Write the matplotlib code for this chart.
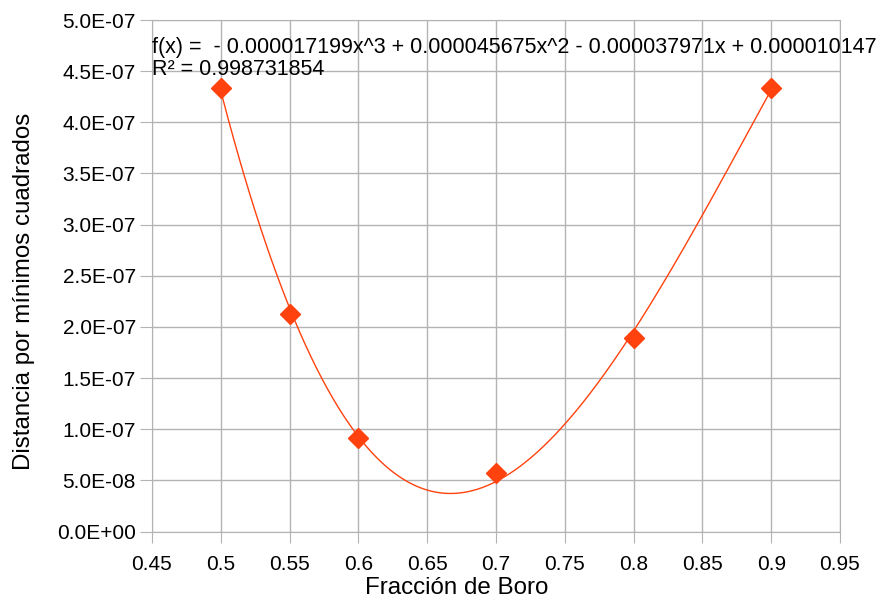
import matplotlib.pyplot as plt
import numpy as np
from matplotlib.ticker import FuncFormatter

plt.rcParams['font.family'] = ['Liberation Sans', 'DejaVu Sans']

boro = [0.5, 0.55, 0.6, 0.7, 0.8, 0.9]
distancia = [4.34e-7, 2.13e-7, 0.91e-7, 0.575e-7, 1.895e-7, 4.335e-7]
eq_text = 'f(x) =  - 0.000017199x^3 + 0.000045675x^2 - 0.000037971x + 0.000010147'
r2_text = 'R² = 0.998731854'

color = '#ff420e'
grid_c = '#b3b3b3'

# cubic trend line through the points
coef = np.polyfit(boro, distancia, 3)
xs = np.linspace(min(boro), max(boro), 300)
ys = np.polyval(coef, xs)

fig = plt.figure(figsize=(8.8, 5.99), dpi=100)
ax = fig.add_axes([152 / 880, 1 - 531.5 / 599, (840 - 152) / 880, (531.5 - 20) / 599])

ax.plot(xs, ys, color=color, lw=1, zorder=2)
ax.plot(boro, distancia, 'D', color=color, ms=10, zorder=3, clip_on=False)

ax.set_xlim(0.45, 0.95)
ax.set_ylim(0, 5e-7)
ax.set_xticks(np.arange(0.45, 0.951, 0.05))
ax.set_yticks(np.arange(0, 5.01e-7, 0.5e-7))
ax.xaxis.set_major_formatter(FuncFormatter(lambda v, p: f'{v:g}'))
ax.yaxis.set_major_formatter(FuncFormatter(lambda v, p: f'{v:.1E}'))
ax.grid(True, color=grid_c, lw=1)
ax.set_axisbelow(True)
for s in ax.spines.values():
    s.set_color(grid_c)
ax.tick_params(color=grid_c, labelsize=15)
ax.tick_params(axis='x', length=8, pad=9)
ax.tick_params(axis='y', length=8.6, pad=3)
ax.yaxis.get_offset_text().set_visible(False)

ax.set_xlabel('Fracción de Boro', fontsize=17.4, labelpad=2)
ax.set_ylabel('Distancia por mínimos cuadrados', fontsize=17.4, labelpad=16)
ax.xaxis.label.set_x(0.443)
ax.yaxis.label.set_y(0.469)

fig.text(152 / 880, 1 - 53 / 599, eq_text, fontsize=15.5, va='baseline', ha='left')
fig.text(152 / 880, 1 - 75 / 599, r2_text, fontsize=15.5, va='baseline', ha='left')

fig.savefig('out.png', dpi=100)
